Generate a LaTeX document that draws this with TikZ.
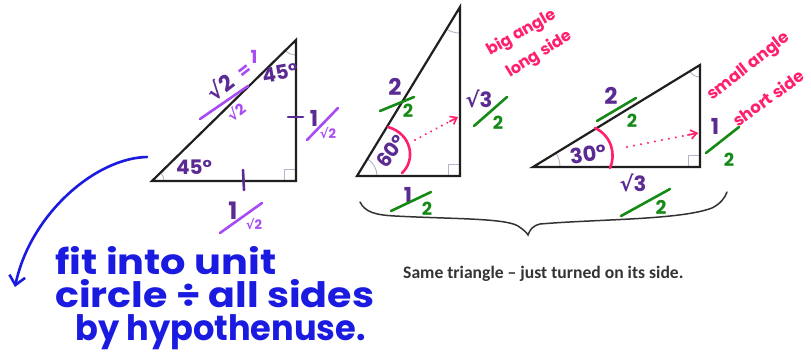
\documentclass[tikz,border=0pt]{standalone}
\usepackage{fontspec}
\setmainfont{Carlito}
\newfontfamily\hand{Poppins}
\newfontfamily\sym{DejaVu Sans}
\usetikzlibrary{arrows.meta,calc}
\definecolor{dpurple}{HTML}{5B2A92}
\definecolor{violet}{HTML}{A84BF5}
\definecolor{mgreen}{HTML}{168A16}
\definecolor{mpink}{HTML}{FF1F6E}
\definecolor{mblue}{HTML}{1A1AE0}
\definecolor{faintc}{HTML}{AEB6C8}
\tikzset{
  tri/.style={draw=black!88, line width=2.2pt, line join=miter},
  faint/.style={draw=faintc, line width=0.9pt},
  hw/.style={inner sep=0pt, font=\hand\bfseries},
  pen/.style={line width=2.6pt, line cap=round},
  vpen/.style={pen, draw=violet},
  gpen/.style={pen, draw=mgreen},
  ppen/.style={pen, draw=dpurple},
  bluetext/.style={inner sep=0pt, text=mblue, anchor=base west, font=\hand\bfseries\fontsize{35}{35}\selectfont},
}
\newcommand\rt{{\sym √}}
\begin{document}
\begin{tikzpicture}[x=1pt,y=-1pt]
\useasboundingbox (0,0) rectangle (811,364);
\fill[white] (0,0) rectangle (811,364);

% ---------- triangle 1 (45-45-90)
\coordinate (A1) at (152,181);
\coordinate (B1) at (296,181);
\coordinate (C1) at (296,40);
\draw[faint] (B1) ++(-12,0) -- ++(0,-12) -- ++(12,0);
\draw[faint] (A1) ++(12,0) arc[start angle=0,end angle=-44,radius=12];
\draw[faint] (C1) ++(0,15) arc[start angle=90,end angle=135,radius=15];
\draw[tri] (A1) -- (B1) -- (C1) -- cycle;

\node[hw, text=dpurple, font=\hand\bfseries\fontsize{20}{20}\selectfont] (t1a) at (194,167) {45°};
\node[hw, text=dpurple, rotate=10, font=\hand\bfseries\fontsize{20}{20}\selectfont] (t1b) at (280,73) {45°};
\node[hw, text=dpurple, rotate=38, font=\hand\bfseries\fontsize{22}{22}\selectfont] (t1h) at (220,87) {\rt2};
\draw[vpen] (200,119) -- (248,86);
\node[hw, text=violet, rotate=38, font=\hand\bfseries\fontsize{15}{15}\selectfont] (t1hd) at (236,112) {\rt2};
\node[hw, text=violet, rotate=38, font=\hand\bfseries\fontsize{18}{18}\selectfont] (t1eq) at (245,72) {=};
\node[hw, text=violet, font=\hand\bfseries\fontsize{18}{18}\selectfont] (t1one) at (254,57) {1};

\draw[ppen] (288,117) -- (303,117);
\node[hw, text=dpurple, font=\hand\bfseries\fontsize{22}{22}\selectfont] (t1r) at (314,118) {1};
\draw[vpen] (307,140) -- (338,108);
\node[hw, text=violet, font=\hand\bfseries\fontsize{13}{13}\selectfont] (t1rd) at (328,133) {\rt2};

\draw[ppen] (243,170) -- (244,190);
\node[hw, text=dpurple, font=\hand\bfseries\fontsize{24}{24}\selectfont] (t1b1) at (233,211) {1};
\draw[vpen] (220,233) -- (262,203);
\node[hw, text=violet, font=\hand\bfseries\fontsize{13}{13}\selectfont] (t1bd) at (254,224) {\rt2};

% ---------- triangle 2 (60 degrees)
\coordinate (A2) at (357,176);
\coordinate (B2) at (460,176);
\coordinate (C2) at (460,7);
\draw[faint] (B2) ++(-12,0) -- ++(0,-12) -- ++(12,0);
\draw[faint] (A2) ++(20,0) arc[start angle=0,end angle=-58,radius=20];
\draw[faint] (C2) ++(0,26) arc[start angle=90,end angle=121,radius=26];
\draw[tri] (A2) -- (B2) -- (C2) -- cycle;

\node[hw, text=dpurple, font=\hand\bfseries\fontsize{23}{23}\selectfont] (t2h) at (395,87) {2};
\draw[gpen] (380,111) -- (414,97);
\node[hw, text=mgreen, font=\hand\bfseries\fontsize{18}{18}\selectfont] (t2hd) at (408,111) {2};
\node[hw, text=dpurple, font=\hand\bfseries\fontsize{21}{21}\selectfont] (t2v) at (479,99) {\rt3};
\draw[gpen] (474,126) -- (507,97);
\node[hw, text=mgreen, font=\hand\bfseries\fontsize{18}{18}\selectfont] (t2vd) at (498,123) {2};
\node[hw, text=dpurple, rotate=52, font=\hand\bfseries\fontsize{20}{20}\selectfont] (t2ang) at (391,151) {60°};
\draw[pen, draw=mpink] (388,127) .. controls (412,134) and (416,160) .. (402,173);
\coordinate (t2s) at (415,140);
\coordinate (t2e) at (458,117);
\draw[line width=2.2pt, draw=mpink, dash pattern=on 0.1pt off 6pt, line cap=round] (t2s) -- (t2e);
\draw[line width=1.6pt, draw=mpink, -{Straight Barb[length=6pt,width=9pt]}] ($(t2e)!0.2!(t2s)$) -- (t2e);
\node[hw, text=dpurple, font=\hand\bfseries\fontsize{22}{22}\selectfont] (t2b) at (408,195) {1};
\draw[gpen] (391,211) -- (431,192);
\node[hw, text=mgreen, font=\hand\bfseries\fontsize{18}{18}\selectfont] (t2bd) at (427,209) {2};

\node[hw, text=mpink, rotate=30, anchor=base west, font=\hand\bfseries\fontsize{16}{16}\selectfont] (big) at (490,56) {big angle};
\node[hw, text=mpink, rotate=32, anchor=base west, font=\hand\bfseries\fontsize{16}{16}\selectfont] (long) at (510,78) {long side};

% ---------- triangle 3 (30 degrees)
\coordinate (A3) at (533,167);
\coordinate (B3) at (700,167);
\coordinate (C3) at (700,65);
\draw[faint] (B3) ++(-12,0) -- ++(0,-12) -- ++(12,0);
\draw[faint] (A3) ++(27,0) arc[start angle=0,end angle=-31,radius=27];
\draw[faint] (C3) ++(0,12) arc[start angle=90,end angle=148,radius=12];
\draw[tri] (A3) -- (B3) -- (C3) -- cycle;

\node[hw, text=dpurple, font=\hand\bfseries\fontsize{23}{23}\selectfont] (t3h) at (611,96) {2};
\draw[gpen] (597,121) -- (636,98);
\node[hw, text=mgreen, font=\hand\bfseries\fontsize{18}{18}\selectfont] (t3hd) at (632,121) {2};
\node[hw, text=dpurple, rotate=8, font=\hand\bfseries\fontsize{21}{21}\selectfont] (t3ang) at (588,154) {30°};
\draw[pen, draw=mpink] (595,128) .. controls (612,136) and (616,155) .. (610,168);
\coordinate (t3s) at (627,147);
\coordinate (t3e) at (698,133);
\draw[line width=2.2pt, draw=mpink, dash pattern=on 0.1pt off 7pt, line cap=round] (t3s) -- (t3e);
\draw[line width=1.6pt, draw=mpink, -{Straight Barb[length=6pt,width=9pt]}] ($(t3e)!0.15!(t3s)$) -- (t3e);
\node[hw, text=dpurple, font=\hand\bfseries\fontsize{22}{22}\selectfont] (t3v) at (715,126) {1};
\draw[gpen] (706,153) -- (739,127);
\node[hw, text=mgreen, font=\hand\bfseries\fontsize{18}{18}\selectfont] (t3vd) at (729,160) {2};
\node[hw, text=dpurple, font=\hand\bfseries\fontsize{21}{21}\selectfont] (t3b) at (633,183) {\rt3};
\draw[gpen] (621,216) -- (670,189);
\node[hw, text=mgreen, font=\hand\bfseries\fontsize{19}{19}\selectfont] (t3bd) at (661,207) {2};

\node[hw, text=mpink, rotate=38, anchor=base west, font=\hand\bfseries\fontsize{16.5}{16.5}\selectfont] (small) at (712,101) {small angle};
\node[hw, text=mpink, rotate=36, anchor=base west, font=\hand\bfseries\fontsize{16.5}{16.5}\selectfont] (short) at (738,128) {short side};

% ---------- brace
\draw[line width=1.5pt, draw=black!80, line cap=round]
  (360,202) .. controls (365,212) and (375,215) .. (395,216)
  .. controls (450,219) and (505,218) .. (518,226)
  .. controls (524,230) and (527,233) .. (528,235)
  .. controls (530,230) and (532,226) .. (540,224)
  .. controls (600,219) and (680,220) .. (712,208)
  .. controls (720,204) and (725,198) .. (727,192);

\node[anchor=base west, text=black!80, font=\bfseries\fontsize{17.6}{18}\selectfont, inner sep=0pt] (cap) at (403,278) {Same triangle – just turned on its side.};

% ---------- blue note
\coordinate (bs) at (147,157);
\coordinate (be) at (15,287);
\draw[line width=2.6pt, draw=mblue, line cap=round, -{Straight Barb[length=9pt,width=16pt]}]
  (bs) .. controls (95,158) and (30,215) .. (be);
\node[bluetext, xscale=1.14] (n1) at (55,274) {fit into unit};
\node[bluetext, xscale=1.13] (n2) at (55,307) {circle ÷ all sides};
\node[bluetext, xscale=0.96] (n3) at (75,340) {by hypothenuse.};
\end{tikzpicture}
\end{document}
